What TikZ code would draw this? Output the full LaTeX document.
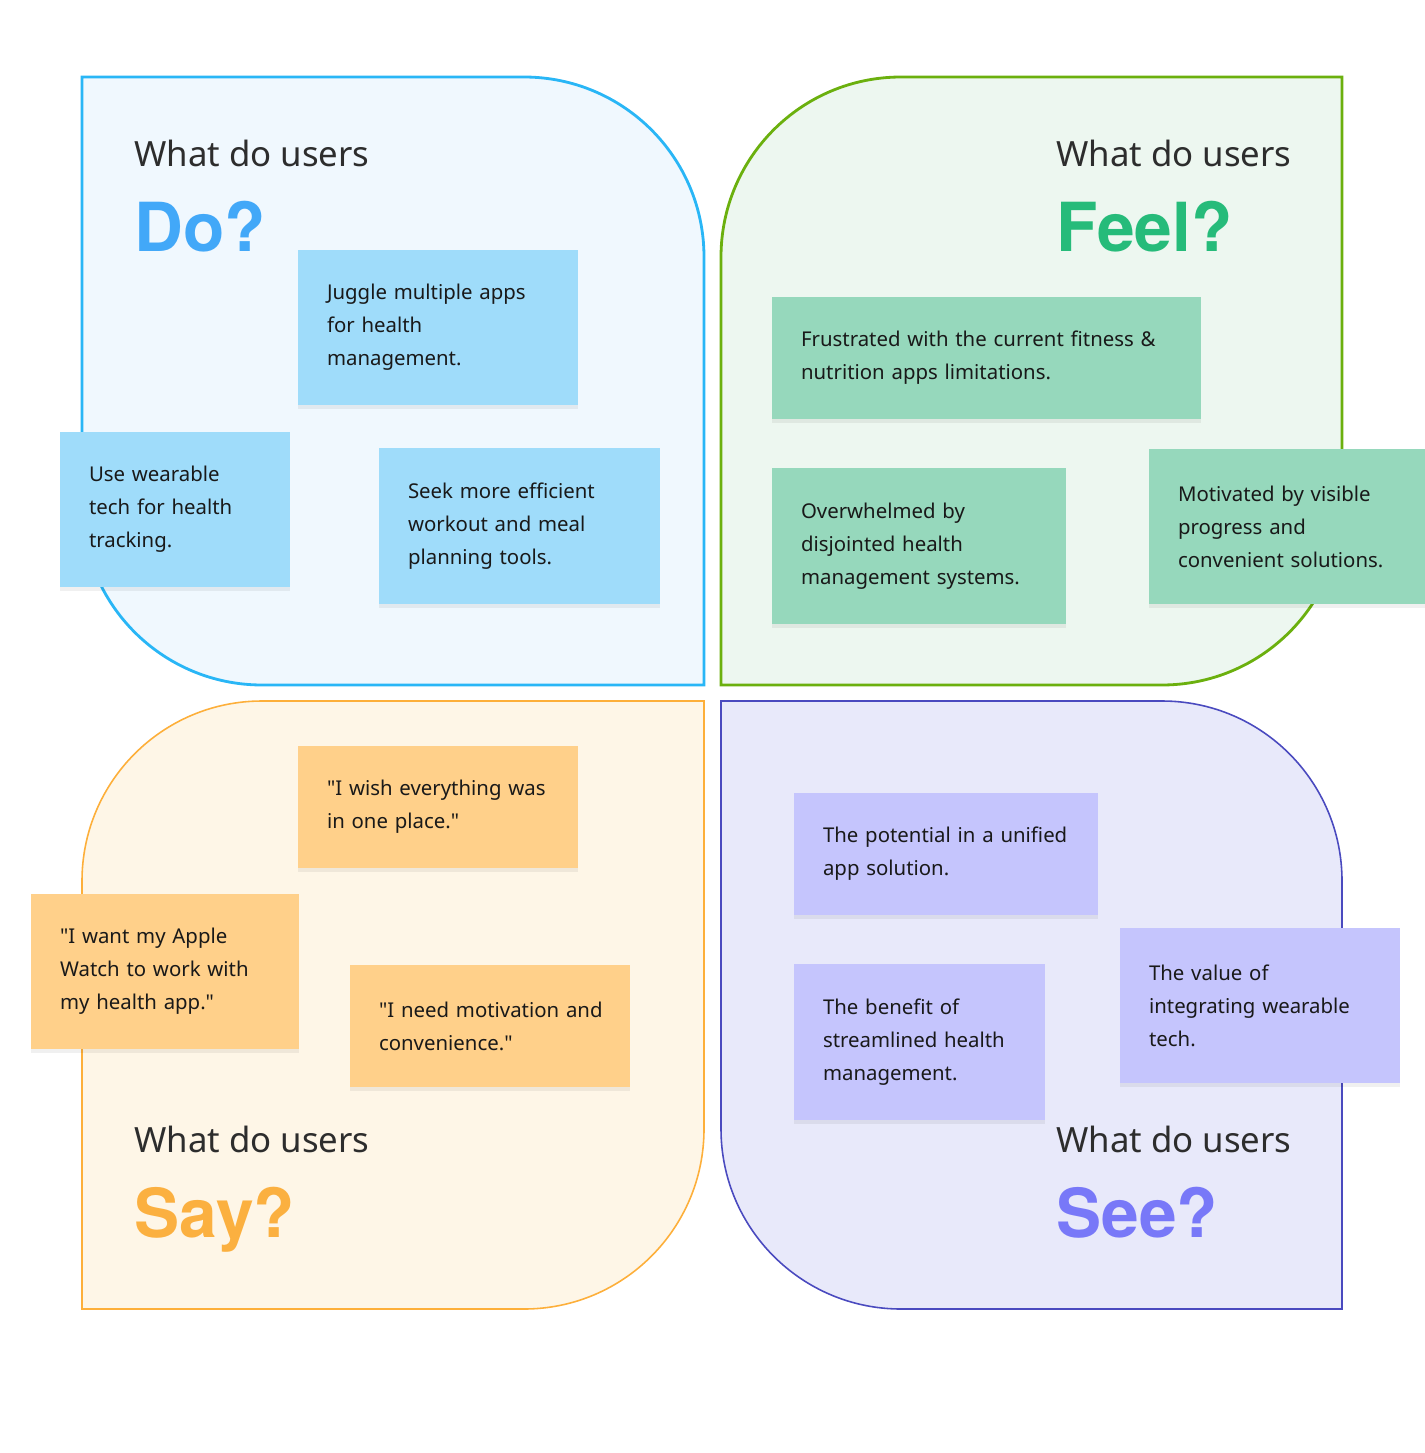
\documentclass[tikz,border=0pt]{standalone}
\usepackage{fontspec}
\setmainfont{Noto Sans}
\newfontfamily\headfont{TeX Gyre Heros}
\usetikzlibrary{shadows}
\definecolor{doLine}{HTML}{29B6F6}
\definecolor{doFill}{HTML}{F0F8FE}
\definecolor{doNote}{HTML}{9FDCFA}
\definecolor{doHead}{HTML}{42A8F8}
\definecolor{feelLine}{HTML}{6BB00E}
\definecolor{feelFill}{HTML}{EDF7F0}
\definecolor{feelNote}{HTML}{96D8BC}
\definecolor{feelHead}{HTML}{26BB7A}
\definecolor{sayLine}{HTML}{FDAF3A}
\definecolor{sayFill}{HTML}{FEF6E7}
\definecolor{sayNote}{HTML}{FFD08A}
\definecolor{sayHead}{HTML}{FBB040}
\definecolor{seeLine}{HTML}{4A4ABF}
\definecolor{seeFill}{HTML}{E8E9FA}
\definecolor{seeNote}{HTML}{C5C5FD}
\definecolor{seeHead}{HTML}{7878F8}
\definecolor{inkDark}{HTML}{2D2D2D}
\newcommand{\qq}{\textquotedbl}
\tikzset{
  quad/.style={draw=#1Line,fill=#1Fill},
  note/.style={fill=#1Note,inner xsep=0pt,inner ysep=0pt,
               font=\fontsize{11.6}{18.8}\selectfont,text=black!90,
               execute at begin node={\leftskip=0.58cm\rightskip=0pt plus 1fil\parindent=0pt},
               drop shadow={shadow xshift=0pt,shadow yshift=-2.5pt,opacity=0.06,fill=black}},
  ask/.style={anchor=base west,inner sep=0pt,text=inkDark,
              font=\fontsize{19.8}{22}\selectfont},
  head/.style={anchor=base west,inner sep=0pt,text=#1Head,
               font=\fontsize{38.5}{44}\headfont\bfseries\selectfont},
}
\begin{document}
\begin{tikzpicture}[x=0.02cm,y=-0.02cm]
  \useasboundingbox (0,0) rectangle (1425,1453);
  % quadrants
  \draw[quad=do,line width=1.6pt] (82,77) -- (524,77) arc (270:360:180) -- (704,685)
    -- (262,685) arc (90:180:180) -- cycle;
  \draw[quad=feel,line width=1.6pt] (1342,77) -- (1342,505) arc (0:90:180) -- (721,685)
    -- (721,257) arc (180:270:180) -- cycle;
  \draw[quad=say,line width=0.9pt] (82,1309) -- (82,881) arc (180:270:180) -- (704,701)
    -- (704,1129) arc (0:90:180) -- cycle;
  \draw[quad=see,line width=0.9pt] (721,701) -- (1162,701) arc (270:360:180) -- (1342,1309)
    -- (901,1309) arc (90:180:180) -- cycle;

  % headings
  \node[ask] (doAsk) at (134,167) {What do users};
  \node[head=do] (doHead) at (134,252) {Do?};
  \node[ask] (feelAsk) at (1056,167) {What do users};
  \node[head=feel] (feelHead) at (1056,252) {Feel?};
  \node[ask] (sayAsk) at (134,1152) {What do users};
  \node[head=say] (sayHead) at (134,1237) {Say?};
  \node[ask] (seeAsk) at (1056,1152) {What do users};
  \node[head=see] (seeHead) at (1056,1237) {See?};

  % do
  \node[note=do,text width=5.6cm,minimum height=3.1cm] (do1) at (438,327.5)
    {Juggle multiple apps\\for health\\management.};
  \node[note=do,text width=4.6cm,minimum height=3.1cm] (do2) at (175,509.5)
    {Use wearable\\tech for health\\tracking.};
  \node[note=do,text width=5.62cm,minimum height=3.12cm] (do3) at (519.5,526)
    {Seek more efficient\\workout and meal\\planning tools.};

  % feel
  \node[note=feel,text width=8.58cm,minimum height=2.44cm] (feel1) at (986.5,358)
    {Frustrated with the current fitness \&\\nutrition apps limitations.};
  \node[note=feel,text width=5.88cm,minimum height=3.12cm] (feel2) at (919,546)
    {Overwhelmed by\\disjointed health\\management systems.};
  \node[note=feel,text width=5.52cm,minimum height=3.1cm] (feel3) at (1287,526.5)
    {Motivated by visible\\progress and\\convenient solutions.};

  % say
  \node[note=say,text width=5.6cm,minimum height=2.44cm] (say1) at (438,807)
    {\qq I wish everything was\\in one place.\qq};
  \node[note=say,text width=5.36cm,minimum height=3.1cm] (say2) at (165,971.5)
    {\qq I want my Apple\\Watch to work with\\my health app.\qq};
  \node[note=say,text width=5.6cm,minimum height=2.44cm] (say3) at (490,1026)
    {\qq I need motivation and\\convenience.\qq};

  % see
  \node[note=see,text width=6.08cm,minimum height=2.44cm] (see1) at (946,854)
    {The potential in a unified\\app solution.};
  \node[note=see,text width=5.02cm,minimum height=3.12cm] (see2) at (919.5,1042)
    {The benefit of\\streamlined health\\management.};
  \node[note=see,text width=5.6cm,minimum height=3.1cm] (see3) at (1260,1005.5)
    {The value of\\integrating wearable\\tech.};
\end{tikzpicture}
\end{document}
